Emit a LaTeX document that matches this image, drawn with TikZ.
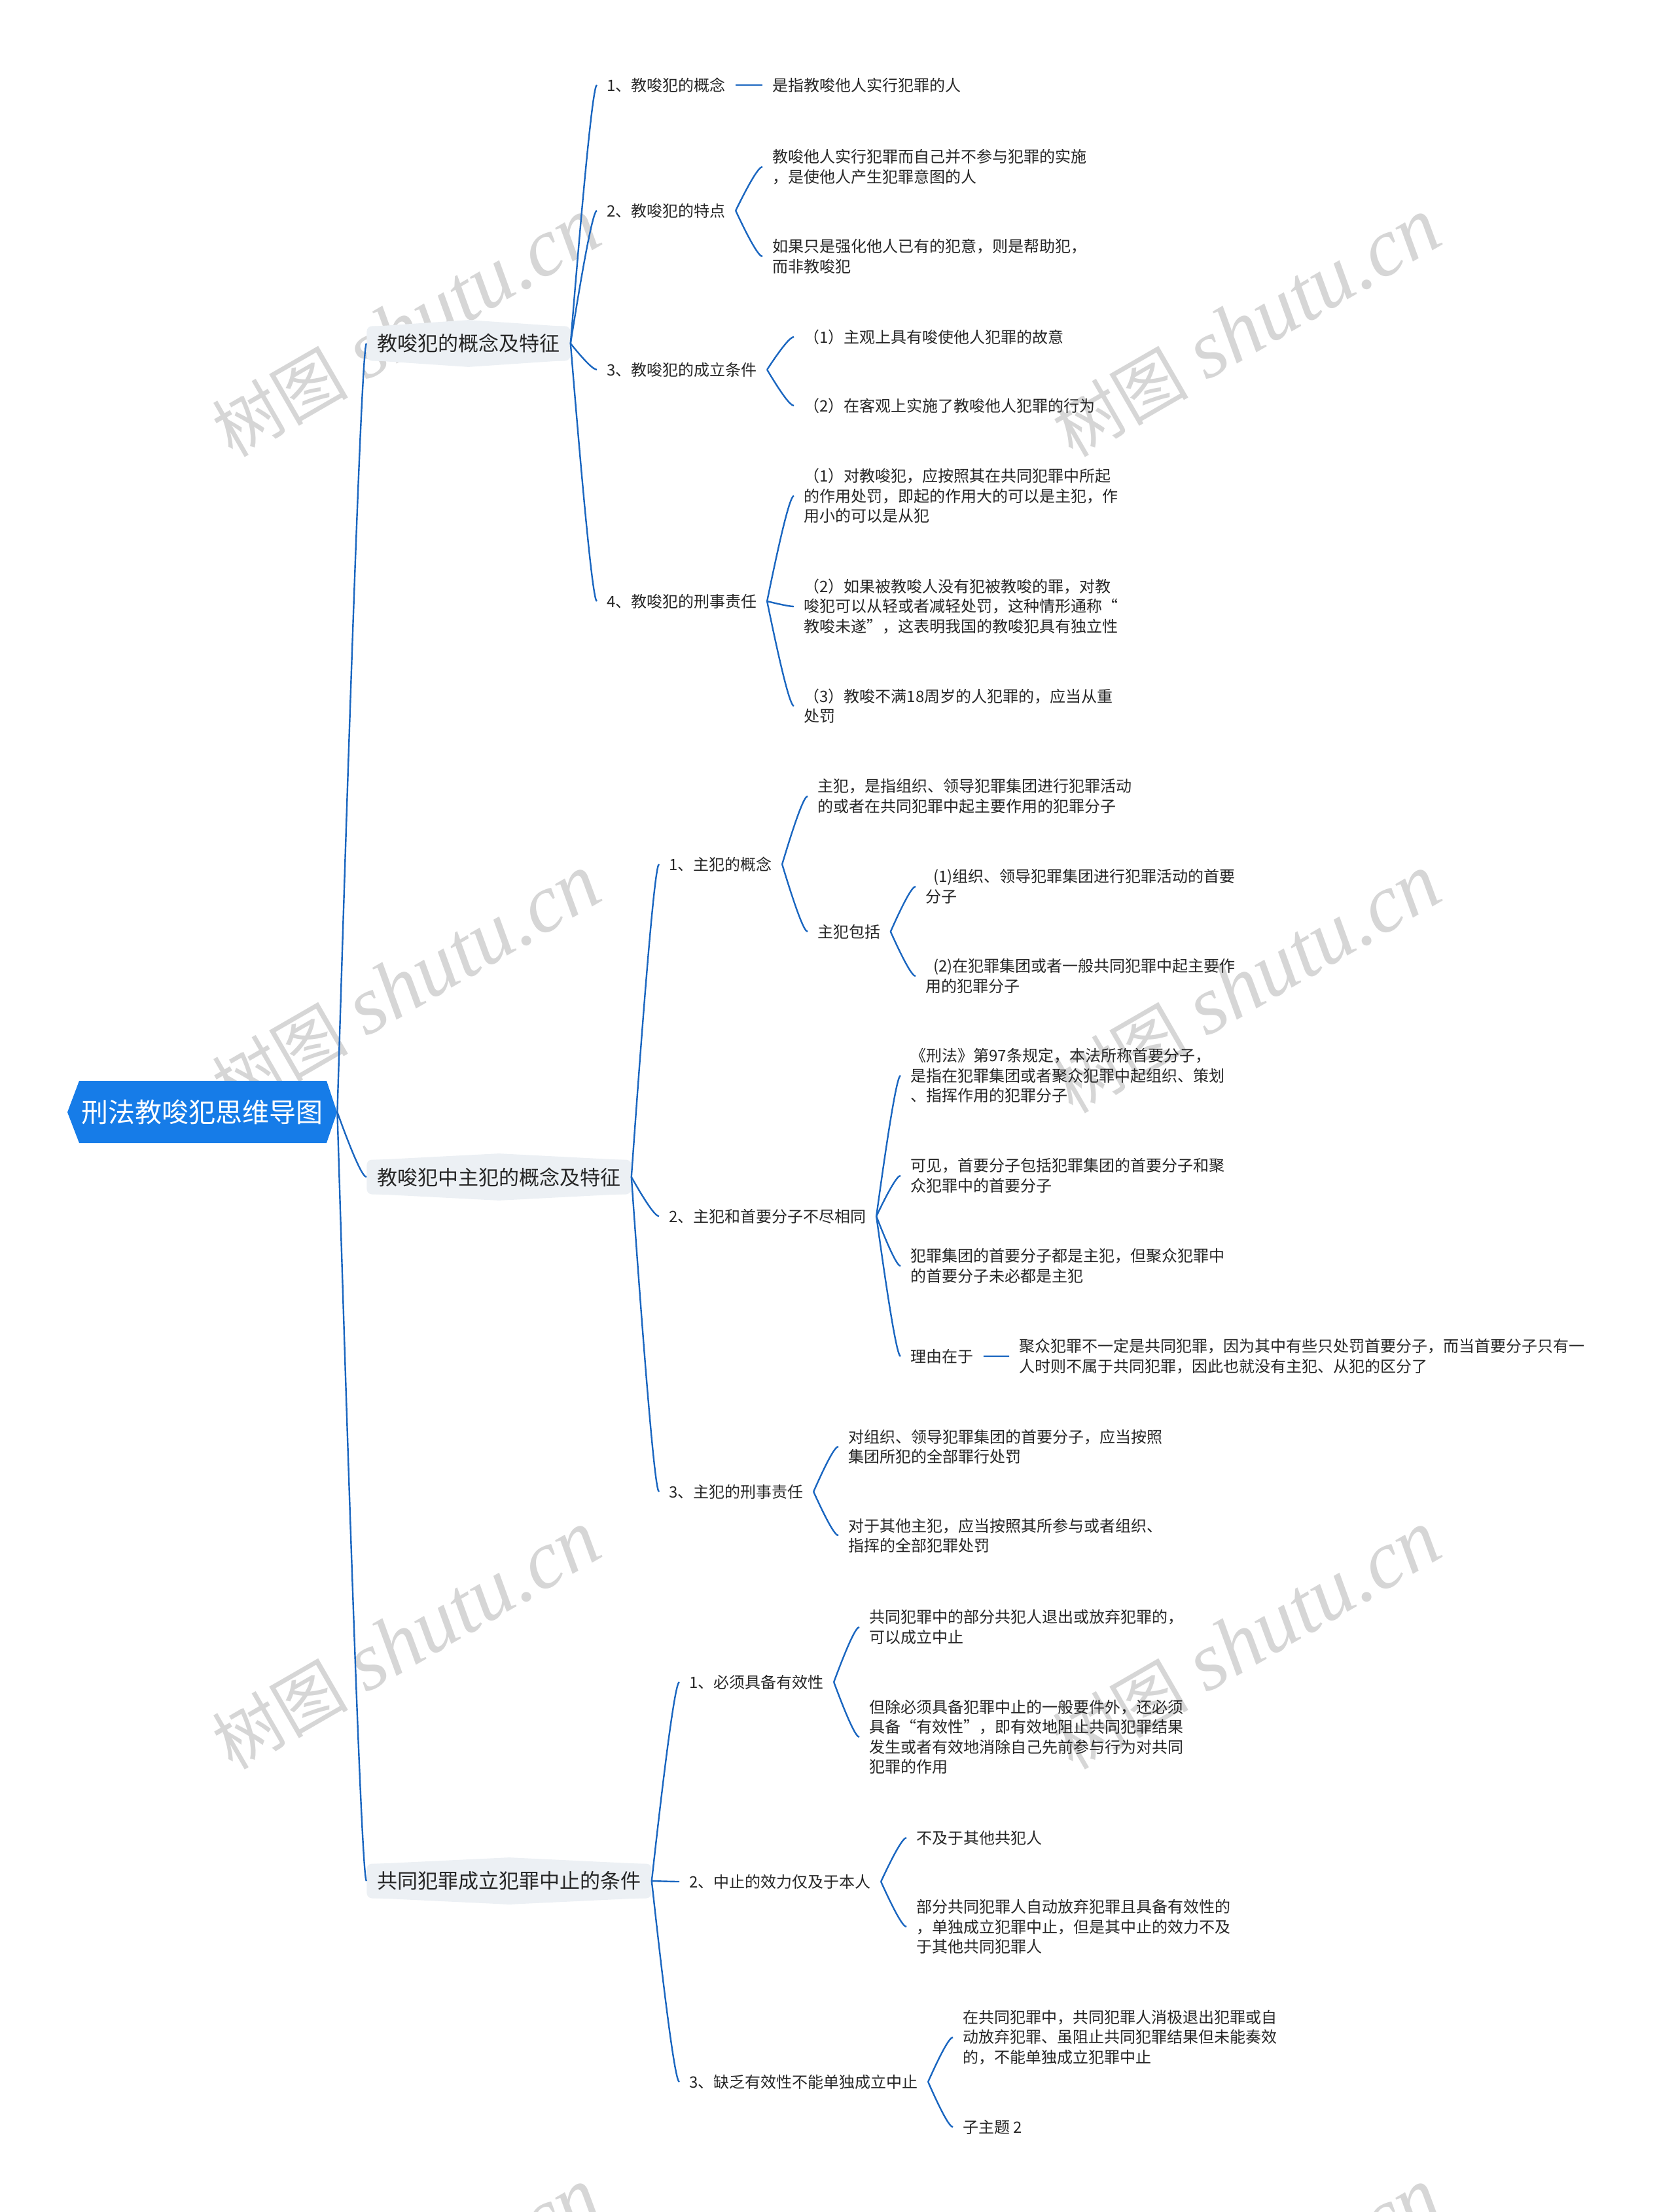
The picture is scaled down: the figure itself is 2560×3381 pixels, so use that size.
\documentclass[tikz,border=0pt]{standalone}
\usepackage{fontspec}
\setmainfont{Noto Sans CJK SC}
\newfontfamily\wmlatin{Liberation Serif}
\usetikzlibrary{calc}

\definecolor{rootblue}{RGB}{22,124,232}
\definecolor{linkblue}{RGB}{26,102,192}
\definecolor{boxgray}{RGB}{236,240,244}
\definecolor{inkgray}{RGB}{38,38,38}
\definecolor{wmgray}{RGB}{214,214,214}

\begin{document}
\begin{tikzpicture}[x=0.5pt,y=-0.5pt,
    roottitle/.style={text=white,inner sep=0pt,minimum width=206pt,minimum height=46pt,font=\fontsize{20.5}{24}\selectfont},
    mainbox/.style={anchor=west,fill=boxgray,rounded corners=4pt,inner xsep=8pt,inner ysep=0pt,minimum height=26.5pt,text=inkgray,font=\fontsize{15.5}{18}\selectfont},
    topic/.style={anchor=west,inner xsep=7.5pt,inner ysep=1pt,align=left,text=inkgray,font=\fontsize{12}{15.2}\selectfont},
    branch/.style={draw=linkblue,line width=1.2pt},
    wmark/.style={anchor=base west,rotate=30,text=wmgray,inner sep=0pt}]

    \useasboundingbox (0,0) rectangle (2560,3381);
    \clip (0,0) rectangle (2560,3381);

    % watermark
    \foreach \wx/\wy in {355/701,1639/701,355/1704,1639/1704,355/2707,1639/2707,355/3712,1639/3712}{%
        \node[wmark] (wm-\wx-\wy) at (\wx,\wy) {\fontsize{52}{52}\selectfont 树图\hspace{14pt}{\wmlatin\itshape\fontsize{63}{63}\selectfont shutu.cn}};
    }

    % root
    \fill[rootblue] (103,1700) -- (121,1652) -- (499,1652) -- (515,1700) -- (499,1747) -- (121,1747) -- cycle;
    \node[roottitle] (root) at (309,1700) {刑法教唆犯思维导图};

    % first level
    \node[mainbox] (boxA) at (560,525)  {教唆犯的概念及特征};
    \node[mainbox] (boxB) at (560,1799) {教唆犯中主犯的概念及特征};
    \node[mainbox] (boxC) at (560,2875) {共同犯罪成立犯罪中止的条件};
    \foreach \b in {boxA,boxB,boxC}{%
        \fill[boxgray] ($(\b.north west)+(8,1)$) -- ($(\b.north)+(0,-9)$) -- ($(\b.north east)+(-8,1)$) -- cycle;
        \fill[boxgray] ($(\b.south west)+(8,-1)$) -- ($(\b.south)+(0,9)$) -- ($(\b.south east)+(-8,-1)$) -- cycle;
    }

    % 教唆犯的概念及特征
    \node[topic] (a1)  at (912,130)  {1、教唆犯的概念};
    \node[topic] (a1x) at (1165,130) {是指教唆他人实行犯罪的人};
    \node[topic] (a2)  at (912,322)  {2、教唆犯的特点};
    \node[topic] (a2x) at (1165,255) {教唆他人实行犯罪而自己并不参与犯罪的实施\\，是使他人产生犯罪意图的人};
    \node[topic] (a2y) at (1165,392) {如果只是强化他人已有的犯意，则是帮助犯，\\而非教唆犯};
    \node[topic] (a3)  at (912,565)  {3、教唆犯的成立条件};
    \node[topic] (a3x) at (1213,515) {（1）主观上具有唆使他人犯罪的故意};
    \node[topic] (a3y) at (1213,620) {（2）在客观上实施了教唆他人犯罪的行为};
    \node[topic] (a4)  at (912,919)  {4、教唆犯的刑事责任};
    \node[topic] (a4x) at (1213,758) {（1）对教唆犯，应按照其在共同犯罪中所起\\的作用处罚，即起的作用大的可以是主犯，作\\用小的可以是从犯};
    \node[topic] (a4y) at (1213,927) {（2）如果被教唆人没有犯被教唆的罪，对教\\唆犯可以从轻或者减轻处罚，这种情形通称“\\教唆未遂”，这表明我国的教唆犯具有独立性};
    \node[topic] (a4z) at (1213,1079) {（3）教唆不满18周岁的人犯罪的，应当从重\\处罚};

    % 教唆犯中主犯的概念及特征
    \node[topic] (b1)   at (1007,1321) {1、主犯的概念};
    \node[topic] (b1x)  at (1234,1217) {主犯，是指组织、领导犯罪集团进行犯罪活动\\的或者在共同犯罪中起主要作用的犯罪分子};
    \node[topic] (b1y)  at (1234,1424) {主犯包括};
    \node[topic] (b1y1) at (1399,1355) {\hspace{6pt}(1)组织、领导犯罪集团进行犯罪活动的首要\\分子};
    \node[topic] (b1y2) at (1399,1492) {\hspace{6pt}(2)在犯罪集团或者一般共同犯罪中起主要作\\用的犯罪分子};
    \node[topic] (b2)   at (1007,1859) {2、主犯和首要分子不尽相同};
    \node[topic] (b2a)  at (1376,1644) {《刑法》第97条规定，本法所称首要分子，\\是指在犯罪集团或者聚众犯罪中起组织、策划\\、指挥作用的犯罪分子};
    \node[topic] (b2b)  at (1376,1797) {可见，首要分子包括犯罪集团的首要分子和聚\\众犯罪中的首要分子};
    \node[topic] (b2c)  at (1376,1935) {犯罪集团的首要分子都是主犯，但聚众犯罪中\\的首要分子未必都是主犯};
    \node[topic] (b2d)  at (1376,2073) {理由在于};
    \node[topic] (b2d1) at (1542,2073) {聚众犯罪不一定是共同犯罪，因为其中有些只处罚首要分子，而当首要分子只有一\\人时则不属于共同犯罪，因此也就没有主犯、从犯的区分了};
    \node[topic] (b3)   at (1007,2280) {3、主犯的刑事责任};
    \node[topic] (b3a)  at (1281,2211) {对组织、领导犯罪集团的首要分子，应当按照\\集团所犯的全部罪行处罚};
    \node[topic] (b3b)  at (1281,2347) {对于其他主犯，应当按照其所参与或者组织、\\指挥的全部犯罪处罚};

    % 共同犯罪成立犯罪中止的条件
    \node[topic] (c1)  at (1038,2571) {1、必须具备有效性};
    \node[topic] (c1a) at (1313,2487) {共同犯罪中的部分共犯人退出或放弃犯罪的，\\可以成立中止};
    \node[topic] (c1b) at (1313,2655) {但除必须具备犯罪中止的一般要件外，还必须\\具备“有效性”，即有效地阻止共同犯罪结果\\发生或者有效地消除自己先前参与行为对共同\\犯罪的作用};
    \node[topic] (c2)  at (1038,2876) {2、中止的效力仅及于本人};
    \node[topic] (c2a) at (1385,2809) {不及于其他共犯人};
    \node[topic] (c2b) at (1385,2945) {部分共同犯罪人自动放弃犯罪且具备有效性的\\，单独成立犯罪中止，但是其中止的效力不及\\于其他共同犯罪人};
    \node[topic] (c3)  at (1038,3182) {3、缺乏有效性不能单独成立中止};
    \node[topic] (c3a) at (1456,3114) {在共同犯罪中，共同犯罪人消极退出犯罪或自\\动放弃犯罪、虽阻止共同犯罪结果但未能奏效\\的，不能单独成立犯罪中止};
    \node[topic] (c3b) at (1456,3251) {子主题 2};

    % connectors
    \foreach \p/\c in {root/boxA,root/boxB,root/boxC,
            boxA/a1,boxA/a2,boxA/a3,boxA/a4,a1/a1x,a2/a2x,a2/a2y,a3/a3x,a3/a3y,a4/a4x,a4/a4y,a4/a4z,
            boxB/b1,boxB/b2,boxB/b3,b1/b1x,b1/b1y,b1y/b1y1,b1y/b1y2,b2/b2a,b2/b2b,b2/b2c,b2/b2d,b2d/b2d1,b3/b3a,b3/b3b,
            boxC/c1,boxC/c2,boxC/c3,c1/c1a,c1/c1b,c2/c2a,c2/c2b,c3/c3a,c3/c3b}{%
        \coordinate (bend) at ($(\p.east |- \c.west)!0.8!(\c.west)$);
        \draw[branch] (\p.east) .. controls ($(\p.east)!0.667!(bend)$) and ($(\c.west)!0.667!(bend)$) .. (\c.west);
    }

\end{tikzpicture}
\end{document}
